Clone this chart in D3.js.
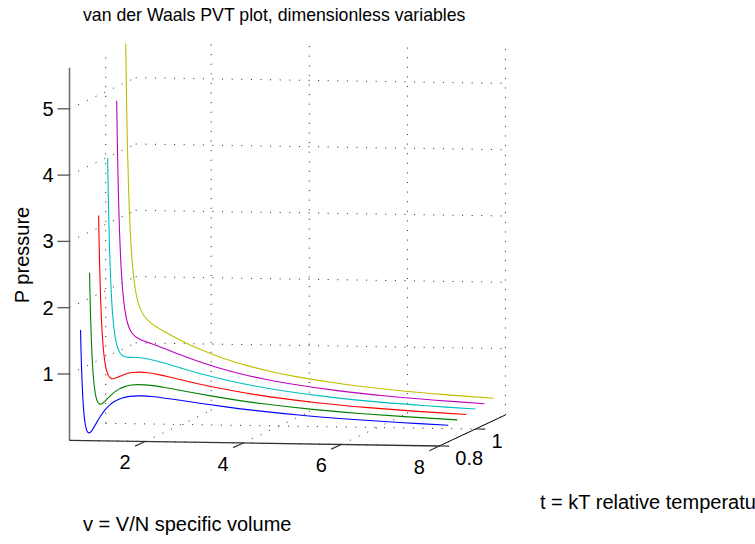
<!DOCTYPE html>
<html>
<head>
<meta charset="utf-8">
<script src="https://cdn.jsdelivr.net/npm/d3@7"></script>
<style>
  body { margin: 0; background: #fff; }
  svg { display: block; font-family: "Liberation Sans", Arial, sans-serif; }
</style>
</head>
<body>
<svg id="chart" width="755" height="544"></svg>
<script>
// specific volume samples (same for every isotherm)
const vValues = [0.5, 0.52, 0.54, 0.56, 0.58, 0.6, 0.63, 0.66, 0.7, 0.75, 0.8, 0.9, 1.0, 1.1, 1.2,
                 1.35, 1.5, 1.75, 2, 2.5, 3, 3.5, 4, 5, 6, 7, 8];

// relative temperatures of the isotherms
const tValues = [0.85, 0.9, 0.95, 1.0, 1.05, 1.1];

// pressure along each isotherm
const p085 = [1.600, 1.048, 0.680, 0.434, 0.271, 0.167, 0.082, 0.052, 0.059, 0.107, 0.170, 0.296, 0.400, 0.477,
              0.532, 0.583, 0.610, 0.620, 0.610, 0.566, 0.517, 0.471, 0.431, 0.366, 0.317, 0.279, 0.249];
const p090 = [2.400, 1.762, 1.325, 1.022, 0.812, 0.667, 0.531, 0.460, 0.423, 0.427, 0.455, 0.532, 0.600, 0.651,
              0.686, 0.715, 0.724, 0.715, 0.690, 0.628, 0.567, 0.513, 0.467, 0.394, 0.340, 0.299, 0.266];
const p095 = [3.200, 2.477, 1.970, 1.610, 1.352, 1.167, 0.981, 0.868, 0.787, 0.747, 0.741, 0.767, 0.800, 0.825,
              0.840, 0.846, 0.838, 0.809, 0.770, 0.689, 0.617, 0.555, 0.503, 0.423, 0.364, 0.319, 0.284];
const p100 = [4.000, 3.191, 2.615, 2.198, 1.893, 1.667, 1.430, 1.276, 1.150, 1.067, 1.027, 1.002, 1.000, 0.999,
              0.994, 0.977, 0.952, 0.903, 0.850, 0.751, 0.667, 0.597, 0.540, 0.451, 0.387, 0.339, 0.301];
const p105 = [4.800, 3.905, 3.260, 2.787, 2.433, 2.167, 1.880, 1.684, 1.514, 1.387, 1.313, 1.238, 1.200, 1.173,
              1.147, 1.108, 1.067, 0.997, 0.930, 0.812, 0.717, 0.639, 0.576, 0.480, 0.411, 0.359, 0.318];
const p110 = [5.600, 4.620, 3.905, 3.375, 2.974, 2.667, 2.329, 2.093, 1.878, 1.707, 1.598, 1.473, 1.400, 1.347,
              1.301, 1.239, 1.181, 1.091, 1.010, 0.874, 0.767, 0.681, 0.613, 0.509, 0.434, 0.379, 0.336];

const pSeries = [p085, p090, p095, p100, p105, p110];
const colors = ["#0000ff", "#008000", "#ff0000", "#00bfbf", "#bf00bf", "#bfbf00"];

// tick values
const vTicks = [2, 4, 6, 8];
const tTicks = [0.8, 1];
const tTickLabels = ["0.8", "1"];
const pTicks = [1, 2, 3, 4, 5];

const svg = d3.select("#chart");

// axis limits
const vLim = [0.46, 8], tLim = [0.8, 1.166], pLim = [0, 5.62];
const origin = [69.5, 440.3];

// 3D -> screen, each direction has its own linear scale
const xV = d3.scaleLinear().domain(vLim).range([0, 369.8]);
const yV = d3.scaleLinear().domain(vLim).range([0, 5.7]);
const xT = d3.scaleLinear().domain(tLim).range([0, 66.2]);
const yT = d3.scaleLinear().domain(tLim).range([0, -31.1]);
const yP = d3.scaleLinear().domain(pLim).range([0, -372.6]);

function project(v, t, p) {
    return [origin[0] + xV(v) + xT(t), origin[1] + yV(v) + yT(t) + yP(p)];
}

const line3 = d3.line().x(d => d[0]).y(d => d[1]);

function seg(a, b) {
    return line3([project(...a), project(...b)]);
}

// dotted grid on the three back planes
const grid = svg.append("g")
    .attr("fill", "none")
    .attr("stroke", "#222")
    .attr("stroke-width", 1)
    .attr("stroke-dasharray", "1,8.6");

vTicks.forEach(v => {
    grid.append("path").attr("d", seg([v, tLim[1], 0], [v, tLim[1], pLim[1]]));   // back wall
    grid.append("path").attr("d", seg([v, tLim[0], 0], [v, tLim[1], 0]));         // floor
});
pTicks.forEach(p => {
    grid.append("path").attr("d", seg([vLim[0], tLim[1], p], [vLim[1], tLim[1], p])); // back wall
    grid.append("path").attr("d", seg([vLim[0], tLim[0], p], [vLim[0], tLim[1], p])); // left wall
});
tTicks.forEach(t => {
    grid.append("path").attr("d", seg([vLim[0], t, 0], [vLim[0], t, pLim[1]]));  // left wall
    grid.append("path").attr("d", seg([vLim[0], t, 0], [vLim[1], t, 0]));        // floor
});

// isotherms
const curve = d3.line()
    .x(d => d[0]).y(d => d[1])
    .curve(d3.curveCatmullRom);

tValues.forEach((t, i) => {
    const pts = vValues.map((v, j) => project(v, t, pSeries[i][j]));
    svg.append("path")
        .attr("d", curve(pts))
        .attr("fill", "none")
        .attr("stroke", colors[i])
        .attr("stroke-width", 1.1);
});

// axis lines
const axes = svg.append("g").attr("fill", "none");
axes.append("path")
    .attr("d", seg([vLim[0], tLim[0], 0], [vLim[0], tLim[0], pLim[1]]))
    .attr("stroke", "#707070").attr("stroke-width", 1.6);
axes.append("path")
    .attr("d", seg([vLim[0], tLim[0], 0], [vLim[1], tLim[0], 0]))
    .attr("stroke", "#333").attr("stroke-width", 1.3);
axes.append("path")
    .attr("d", seg([vLim[1], tLim[0], 0], [vLim[1], tLim[1], 0]))
    .attr("stroke", "#000").attr("stroke-width", 1);

const labels = svg.append("g").attr("fill", "#000").attr("font-size", 20);

// P axis ticks and labels
pTicks.forEach(p => {
    const [x, y] = project(vLim[0], tLim[0], p);
    axes.append("line")
        .attr("x1", x - 12).attr("y1", y).attr("x2", x).attr("y2", y)
        .attr("stroke", "#555").attr("stroke-width", 1.3);
    labels.append("text")
        .attr("x", x - 16).attr("y", y)
        .attr("text-anchor", "end")
        .attr("dominant-baseline", "central")
        .text(p);
});

// v axis ticks (pointing out, along -t) and labels
vTicks.forEach(v => {
    const [x, y] = project(v, tLim[0], 0);
    const [x2, y2] = project(v, tLim[0] - 0.055, 0);
    axes.append("line")
        .attr("x1", x).attr("y1", y).attr("x2", x2).attr("y2", y2)
        .attr("stroke", "#333").attr("stroke-width", 1.2);
    labels.append("text")
        .attr("x", x - 20).attr("y", y + 21)
        .attr("text-anchor", "middle")
        .attr("dominant-baseline", "central")
        .text(v);
});

// t axis ticks (pointing out, along +v) and labels
tTicks.forEach((t, i) => {
    const [x, y] = project(vLim[1], t, 0);
    const [x2, y2] = project(vLim[1] + 0.2, t, 0);
    axes.append("line")
        .attr("x1", x).attr("y1", y).attr("x2", x2).attr("y2", y2)
        .attr("stroke", "#333").attr("stroke-width", 1.2);
    labels.append("text")
        .attr("x", x + 16).attr("y", y + 12)
        .attr("text-anchor", "start")
        .attr("dominant-baseline", "central")
        .text(tTickLabels[i]);
});

// titles
labels.append("text").attr("x", 83).attr("y", 21).attr("font-size", 17.7)
    .text("van der Waals PVT plot, dimensionless variables");
labels.append("text").attr("x", 83).attr("y", 531).text("v = V/N specific volume");
labels.append("text").attr("x", 540).attr("y", 509).text("t = kT relative temperature");
labels.append("text")
    .attr("transform", "translate(29,255) rotate(-90)")
    .attr("text-anchor", "middle")
    .text("P pressure");
</script>
</body>
</html>
